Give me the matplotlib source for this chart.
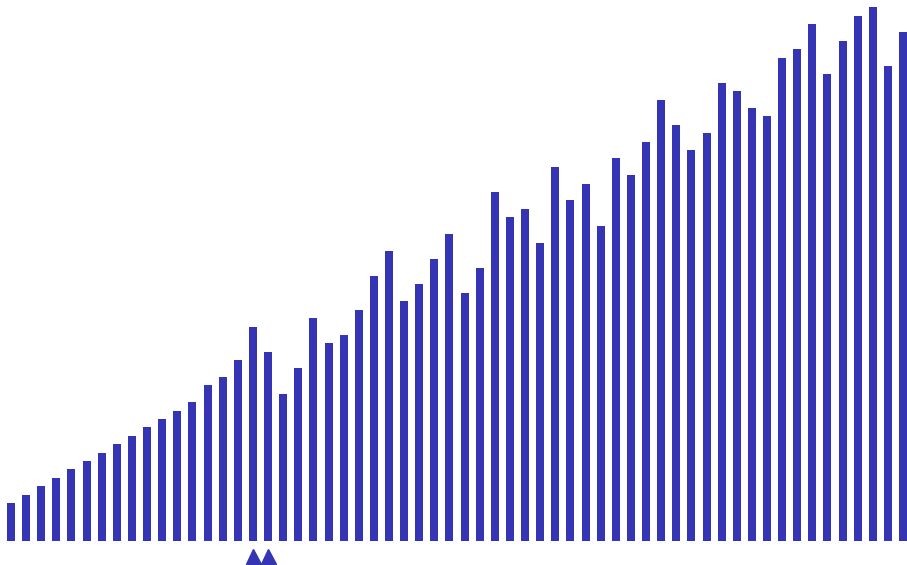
import matplotlib
matplotlib.use("Agg")
import matplotlib.pyplot as plt
import numpy as np

# bar heights, left to right
values = [38, 46, 55, 63, 72, 80, 88, 97, 105, 114,
          122, 130, 139, 156, 164, 181, 214, 189, 147, 173,
          223, 198, 206, 231, 265, 290, 240, 257, 282, 307,
          248, 273, 349, 324, 332, 298, 374, 341, 357, 315,
          383, 366, 399, 441, 416, 391, 408, 458, 450, 433,
          425, 483, 492, 517, 467, 500, 525, 534, 475, 509]
marked = [16, 17]  # bars flagged with a triangle underneath

color = '#3434b4'
x = np.arange(len(values))

fig = plt.figure(figsize=(9.07, 5.65), dpi=100)
ax = fig.add_axes([0, 0, 1, 1])
ax.bar(x, values, width=0.53, color=color)
ax.plot(marked, [-15] * len(marked), linestyle='none', marker='^',
        markersize=10.8, color=color, clip_on=False)

ax.set_xlim(-0.7275, 59.26)
ax.set_ylim(-24, 541)
ax.axis('off')

fig.savefig('out.png', dpi=100)
